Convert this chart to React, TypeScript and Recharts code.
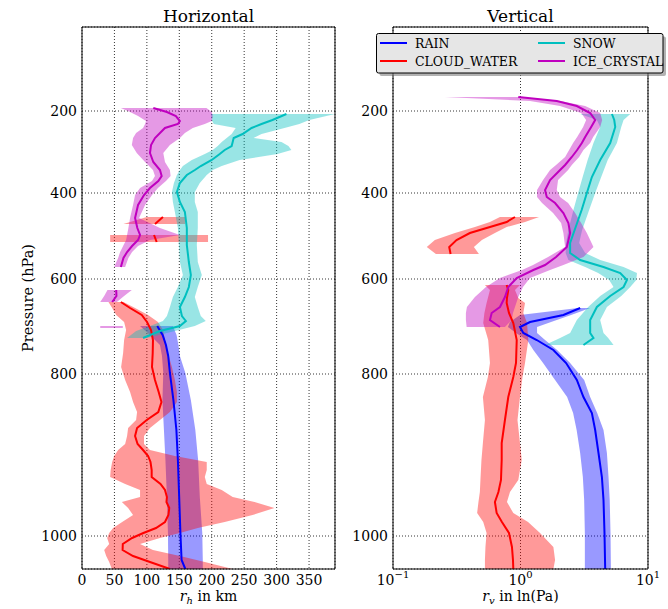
import React from 'react';
import { ComposedChart, Area, Line, XAxis, YAxis, CartesianGrid } from 'recharts';

type Row = [number, number, number, number]; // [level, low, mean, high]

// vertical coordinate: model level (0 = lowest level), labelled with mean pressure
const LEVEL_DOMAIN: [number, number] = [0, 54.2];
const PRESSURE_LABELS = [200, 400, 600, 800, 1000];
const PRESSURE_LEVELS = [45.8, 37.6, 29.0, 19.5, 3.3];
const MINOR_LEVELS = [52.4, 50.1, 48.0, 43.7, 41.7, 39.6, 35.6, 33.4, 31.2, 26.7, 24.5, 22.1, 17.6, 13.3, 9.3];
const COMB_LEVELS = Array.from({ length: 217 }, (_, i) => i * 0.25);

const RH_DOMAIN: [number, number] = [0, 390];
const RH_TICKS = [0, 50, 100, 150, 200, 250, 300, 350];
const RV_DOMAIN: [number, number] = [0.1, 10];
const RV_TICKS = [0.1, 1, 10];
const RV_MINOR = [0.2, 0.3, 0.4, 0.5, 0.6, 0.7, 0.8, 0.9, 2, 3, 4, 5, 6, 7, 8, 9];

// ---------- Horizontal (r_h, km) ----------
const RAIN_H: Row[] = [
  [24.3, 89.5, 116.0, 140.1], [23.4, 104.8, 124.3, 145.8], [22.4, 120.2, 129.4, 148.6],
  [21.3, 123.3, 132.9, 150.9], [19.6, 125.3, 135.5, 159.3], [16.9, 124.0, 140.9, 167.8],
  [13.9, 126.3, 145.5, 174.7], [10.9, 128.6, 147.8, 179.0], [7.2, 130.9, 149.8, 181.6],
  [3.6, 132.5, 151.7, 185.4], [0.9, 132.9, 153.5, 186.2], [0, 132.9, 159.3, 186.2],
];
const CLOUD_H_A: Row[] = [[35.2, 99.8, 124.8, 159.0], [34.5, 63.9, 112.5, 159.0]];
const CLOUD_H_B: Row[] = [[33.4, 43.4, 111.0, 194.3], [32.7, 43.4, 115.1, 194.3]];
const CLOUD_H_C: Row[] = [
  [26.7, 40.8, 59.9, 63.9], [26.1, 46.5, 74.1, 81.8], [25.4, 52.7, 92.1, 101.8],
  [24.7, 64.9, 100.2, 117.1], [23.9, 68.0, 106.4, 124.8], [22.9, 64.9, 109.4, 127.9],
  [21.6, 63.4, 109.0, 132.5], [20.2, 60.3, 107.9, 138.6], [18.9, 66.5, 112.5, 143.2],
  [17.7, 74.1, 118.2, 146.3], [16.7, 78.7, 122.5, 146.3], [15.7, 84.9, 117.6, 135.5],
  [14.9, 83.4, 99.8, 120.2], [14.1, 71.1, 84.9, 104.8], [13.3, 69.5, 81.8, 95.6],
  [12.5, 66.5, 85.7, 95.6], [11.9, 55.7, 94.1, 104.8], [11.3, 49.6, 101.9, 143.2],
  [10.7, 46.5, 105.6, 192.3], [9.9, 44.2, 107.4, 192.3], [9.2, 43.4, 107.4, 189.3],
  [8.5, 66.5, 121.0, 192.3], [7.9, 89.5, 127.9, 215.4], [7.2, 89.5, 130.9, 232.3],
  [6.7, 61.4, 130.2, 266.0], [6.1, 71.1, 134.5, 296.7], [5.4, 78.7, 133.2, 262.9],
  [4.7, 61.9, 127.9, 220.0], [4.1, 48.0, 114.1, 178.5], [3.6, 41.9, 94.6, 150.9],
  [3.1, 38.8, 77.2, 120.2], [2.5, 41.9, 62.9, 89.5], [1.9, 34.2, 62.6, 109.4],
  [1.3, 37.3, 78.7, 150.9], [0.7, 41.9, 104.8, 189.3], [0, 46.0, 135.5, 232.3],
];
const SNOW_H: Row[] = [
  [45.5, 198.5, 315.1, 390.0], [44.9, 200.0, 293.6, 350.4], [44.5, 203.1, 276.7, 335.1],
  [44.1, 236.9, 261.4, 312.1], [43.5, 230.7, 247.6, 276.8], [43.1, 223.0, 233.8, 264.5],
  [42.7, 215.4, 232.3, 307.5], [42.3, 209.2, 230.7, 318.2], [41.9, 201.5, 220.0, 322.8],
  [41.5, 189.3, 212.3, 301.3], [40.9, 169.3, 200.0, 243.0], [40.3, 155.5, 183.1, 215.4],
  [39.9, 150.9, 174.0, 201.5], [39.4, 146.3, 161.6, 192.3], [38.6, 141.7, 150.9, 181.6],
  [37.7, 138.6, 146.3, 173.9], [36.7, 140.1, 150.9, 173.9], [35.7, 143.2, 158.6, 178.5],
  [34.1, 147.8, 161.6, 178.5], [32.4, 149.4, 161.6, 177.0], [30.7, 150.9, 164.7, 178.5],
  [29.4, 155.5, 167.8, 184.7], [28.2, 147.8, 164.7, 178.5], [27.2, 140.1, 158.6, 173.9],
  [26.2, 135.5, 150.9, 178.5], [25.3, 130.9, 154.0, 183.1], [24.8, 124.8, 160.1, 190.8],
  [24.3, 104.8, 150.9, 173.9], [23.8, 83.4, 120.2, 143.2], [23.1, 69.5, 94.1, 100.2],
];
const ICE_H_A: Row[] = [
  [46.1, 59.9, 109.9, 191.9], [45.7, 74.1, 130.9, 200.0], [45.3, 86.4, 144.7, 201.5],
  [44.8, 98.7, 150.9, 200.0], [44.5, 97.2, 147.8, 189.3], [44.1, 94.1, 127.9, 170.8],
  [43.6, 83.4, 120.2, 158.6], [43.1, 78.7, 112.5, 150.9], [42.4, 76.8, 106.4, 135.5],
  [41.6, 84.4, 104.8, 125.3], [40.7, 97.2, 109.9, 127.9], [39.9, 109.4, 120.2, 135.5],
  [39.3, 112.5, 122.8, 136.6], [38.8, 107.9, 117.6, 129.4], [38.1, 89.5, 104.8, 117.1],
  [37.4, 81.8, 95.6, 107.9], [36.4, 78.7, 86.4, 97.2], [35.1, 74.1, 81.8, 88.0],
  [34.1, 71.5, 85.3, 120.2], [33.4, 69.5, 89.5, 150.9], [32.9, 68.0, 86.4, 104.8],
  [32.3, 63.4, 77.2, 86.4], [31.7, 58.8, 69.5, 77.2], [31.1, 55.7, 63.9, 71.5],
  [30.2, 49.6, 59.9, 66.5],
];
const ICE_H_B: Row[] = [[27.9, 39.3, 52.7, 76.8], [27.3, 34.2, 53.1, 64.9], [26.7, 28.1, 46.5, 53.7]];
const ICE_H_SINGLE: [number, number, number] = [24.2, 28.1, 62.9]; // [level, low, high]

// ---------- Vertical (r_v, ln(Pa)) ----------
const RAIN_V: Row[] = [
  [26.1, 2.831, 2.937, 3.519], [25.4, 0.991, 2.170, 2.495], [24.7, 0.827, 1.188, 1.737],
  [24.2, 0.797, 0.991, 1.348], [23.6, 0.922, 1.052, 1.348], [22.9, 1.125, 1.341, 1.558],
  [21.9, 1.261, 1.811, 1.936], [20.6, 1.503, 2.279, 2.450], [18.9, 1.867, 2.766, 3.157],
  [17.2, 2.321, 3.117, 3.519], [15.6, 2.586, 3.629, 3.995], [13.9, 2.756, 3.852, 4.477],
  [11.6, 2.937, 4.090, 4.761], [9.2, 3.083, 4.349, 4.902], [6.9, 3.157, 4.477, 5.009],
  [3.6, 3.197, 4.558, 5.082], [0, 3.197, 4.616, 5.119],
];
const CLOUD_V_A: Row[] = [
  [35.2, 0.690, 0.905, 1.398], [34.7, 0.576, 0.779, 1.085], [34.2, 0.439, 0.576, 0.779],
  [33.6, 0.306, 0.401, 0.630], [32.9, 0.213, 0.315, 0.498], [32.2, 0.184, 0.276, 0.431],
  [31.5, 0.217, 0.283, 0.472],
];
const CLOUD_V_B: Row[] = [
  [28.4, 0.526, 0.779, 0.991], [27.9, 0.576, 0.802, 0.905], [27.1, 0.555, 0.783, 0.961],
  [26.6, 0.542, 0.779, 1.085], [25.6, 0.521, 0.812, 1.052], [24.6, 0.510, 0.878, 1.125],
  [22.9, 0.558, 0.934, 1.152], [20.6, 0.576, 0.922, 1.085], [19.2, 0.555, 0.878, 1.037],
  [17.2, 0.507, 0.802, 0.991], [14.9, 0.526, 0.755, 0.947], [12.6, 0.507, 0.712, 0.991],
  [10.9, 0.494, 0.712, 1.022], [8.9, 0.485, 0.703, 0.961], [7.7, 0.480, 0.671, 0.827],
  [6.7, 0.468, 0.630, 0.783], [5.6, 0.457, 0.650, 0.878], [4.7, 0.510, 0.715, 1.146],
  [3.6, 0.542, 0.812, 1.423], [2.2, 0.531, 0.857, 1.811], [0.9, 0.526, 0.873, 1.867],
  [0, 0.526, 0.878, 1.811],
];
const SNOW_V: Row[] = [
  [45.5, 2.937, 5.212, 7.260], [44.9, 3.973, 5.435, 6.431], [44.2, 4.217, 5.534, 6.168],
  [42.6, 3.735, 5.053, 5.706], [40.9, 3.363, 4.217, 4.831], [39.2, 3.073, 3.629, 4.295],
  [37.6, 2.831, 3.315, 3.852], [35.9, 2.601, 3.017, 3.455], [33.9, 2.375, 2.658, 3.044],
  [32.6, 2.279, 2.450, 2.884], [31.6, 2.259, 2.450, 3.215], [30.9, 2.375, 2.937, 4.217],
  [30.2, 3.215, 4.477, 6.431], [29.6, 4.067, 6.058, 8.195], [28.9, 4.963, 6.837, 8.091],
  [28.2, 5.366, 6.431, 7.260], [27.3, 4.217, 5.053, 6.168], [26.2, 3.394, 3.973, 4.761],
  [24.9, 2.766, 3.519, 4.217], [23.6, 2.450, 3.519, 4.477], [23.1, 2.044, 3.735, 4.875],
  [22.4, 1.558, 3.117, 5.366],
];
const ICE_V: Row[] = [
  [47.2, 0.255, 0.961, 1.0], [46.8, 1.188, 1.925, 2.044], [46.3, 2.044, 2.766, 3.215],
  [45.6, 2.990, 3.519, 4.217], [44.9, 3.273, 3.852, 4.372], [44.2, 3.100, 3.583, 4.217],
  [43.2, 2.781, 3.215, 3.715], [42.6, 2.586, 3.028, 3.519], [41.9, 2.406, 2.781, 3.117],
  [41.2, 2.238, 2.526, 2.884], [40.4, 1.901, 2.238, 2.526], [39.9, 1.706, 2.044, 2.363],
  [38.9, 1.503, 1.706, 1.971], [37.9, 1.348, 1.558, 1.925], [37.2, 1.348, 1.607, 2.044],
  [36.6, 1.476, 1.867, 2.363], [35.6, 1.801, 2.170, 2.682], [34.6, 2.082, 2.375, 2.990],
  [33.6, 2.170, 2.450, 3.315], [32.2, 2.238, 2.308, 3.735], [31.2, 1.645, 1.901, 3.117],
  [30.4, 1.254, 1.558, 2.170], [29.9, 1.028, 1.261, 1.706], [29.1, 0.690, 0.934, 1.188],
  [28.2, 0.536, 0.802, 1.046], [27.2, 0.439, 0.755, 0.961], [26.2, 0.380, 0.690, 0.905],
  [25.6, 0.373, 0.594, 0.873], [24.9, 0.373, 0.576, 0.853], [24.2, 0.378, 0.690, 0.755],
];

const FONT = 'DejaVu Serif';
const C_RAIN = '#0000ff';
const C_CLOUD = '#ff0000';
const C_SNOW = '#00bfbf';
const C_ICE = '#bf00bf';

const LEGEND = [
  { name: 'RAIN', color: C_RAIN, col: 0, row: 0 },
  { name: 'CLOUD_WATER', color: C_CLOUD, col: 0, row: 1 },
  { name: 'SNOW', color: C_SNOW, col: 1, row: 0 },
  { name: 'ICE_CRYSTAL', color: C_ICE, col: 1, row: 1 },
];

type Series = { rows: Row[]; color: string };

const H_SERIES: Series[] = [
  { rows: RAIN_H, color: C_RAIN },
  { rows: CLOUD_H_A, color: C_CLOUD },
  { rows: CLOUD_H_B, color: C_CLOUD },
  { rows: CLOUD_H_C, color: C_CLOUD },
  { rows: SNOW_H, color: C_SNOW },
  { rows: ICE_H_A, color: C_ICE },
  { rows: ICE_H_B, color: C_ICE },
];
const V_SERIES: Series[] = [
  { rows: RAIN_V, color: C_RAIN },
  { rows: CLOUD_V_A, color: C_CLOUD },
  { rows: CLOUD_V_B, color: C_CLOUD },
  { rows: SNOW_V, color: C_SNOW },
  { rows: ICE_V, color: C_ICE },
];

const toRows = (rows: Row[]) => rows.map(([lev, lo, mean, hi]) => ({ lev, mean, band: [lo, hi] }));

const bandEls = (list: Series[], p: string) =>
  list.map((s, i) => (
    <Area
      key={p + 'band' + i}
      data={toRows(s.rows)}
      dataKey="band"
      type="linear"
      stroke="none"
      fill={s.color}
      fillOpacity={0.4}
      dot={false}
      activeDot={false}
      isAnimationActive={false}
    />
  ));
const lineEls = (list: Series[], p: string) =>
  list.map((s, i) => (
    <Line
      key={p + 'line' + i}
      data={toRows(s.rows)}
      dataKey="mean"
      type="linear"
      stroke={s.color}
      strokeWidth={2}
      dot={false}
      activeDot={false}
      isAnimationActive={false}
    />
  ));

const pressureLabel = (v: number) => {
  const i = PRESSURE_LEVELS.indexOf(v);
  return i >= 0 ? String(PRESSURE_LABELS[i]) : '';
};

const LinTick = (props: any) => {
  const { x, y, payload } = props;
  return (
    <text x={x} y={y + 16} textAnchor="middle" fontFamily={FONT} fontSize={14} fill="#000">
      {payload.value}
    </text>
  );
};
const LogTick = (props: any) => {
  const { x, y, payload } = props;
  const e = Math.round(Math.log10(payload.value));
  return (
    <text x={x} y={y + 16} textAnchor="middle" fontFamily={FONT} fontSize={14} fill="#000">
      10
      <tspan dy={-7} fontSize={10}>
        {e < 0 ? '\u2212' + Math.abs(e) : String(e)}
      </tspan>
    </text>
  );
};

const TINY = 0.001;

// inward tick marks and frame (mirrored axes, registered before the main axes)
const frameAxes = (xd: [number, number], xTicks: number[], xMinor: number[] | null, scale: 'linear' | 'log') => {
  const yAx = (id: string, orientation: 'left' | 'right', ticks: number[], size: number, line: boolean, color = '#000', w = 1) => (
    <YAxis
      key={id}
      yAxisId={id}
      type="number"
      orientation={orientation}
      mirror
      reversed
      width={TINY}
      domain={LEVEL_DOMAIN}
      allowDataOverflow
      ticks={ticks}
      interval={0}
      tick={false}
      tickSize={size}
      tickLine={{ stroke: color, strokeWidth: w }}
      axisLine={line ? { stroke: '#000', strokeWidth: 1 } : false}
    />
  );
  const xAx = (id: string, orientation: 'top' | 'bottom', ticks: number[], size: number, line: boolean) => (
    <XAxis
      key={id}
      xAxisId={id}
      type="number"
      scale={scale}
      orientation={orientation}
      mirror
      height={TINY}
      domain={xd}
      allowDataOverflow
      ticks={ticks}
      interval={0}
      tick={false}
      tickSize={size}
      tickLine={{ stroke: '#000', strokeWidth: 1 }}
      axisLine={line ? { stroke: '#000', strokeWidth: 1 } : false}
    />
  );
  const els = [
    yAx('lcomb', 'left', COMB_LEVELS, 2, false, '#666', 0.5),
    yAx('lmin', 'left', MINOR_LEVELS, 3, false),
    yAx('lmaj', 'left', PRESSURE_LEVELS, 5, false),
    yAx('rcomb', 'right', COMB_LEVELS, 2, false, '#666', 0.5),
    yAx('rmin', 'right', MINOR_LEVELS, 3, false),
    yAx('rmaj', 'right', PRESSURE_LEVELS, 5, true),
    xAx('tmaj', 'top', xTicks, 5, true),
    xAx('bmaj', 'bottom', xTicks, 5, false),
  ];
  if (xMinor) {
    els.push(xAx('tmin', 'top', xMinor, 3, false));
    els.push(xAx('bmin', 'bottom', xMinor, 3, false));
  }
  return els;
};

const yTickStyle = { fontFamily: FONT, fontSize: 14, fill: '#000' };

function HorizontalPanel() {
  return (
    <ComposedChart layout="vertical" width={345} height={609} margin={{ top: 27, right: 10, bottom: 0, left: 0 }}>
      {bandEls(H_SERIES, 'h')}
      <Line
        data={[
          { lev: ICE_H_SINGLE[0], mean: ICE_H_SINGLE[1] },
          { lev: ICE_H_SINGLE[0], mean: ICE_H_SINGLE[2] },
        ]}
        dataKey="mean"
        stroke={C_ICE}
        strokeOpacity={0.4}
        strokeWidth={2}
        dot={false}
        activeDot={false}
        isAnimationActive={false}
      />
      {lineEls(H_SERIES, 'h')}
      <CartesianGrid stroke="#000" strokeWidth={0.8} strokeDasharray="1 2" />
      {frameAxes(RH_DOMAIN, RH_TICKS, null, 'linear')}
      <XAxis
        type="number"
        domain={RH_DOMAIN}
        allowDataOverflow
        ticks={RH_TICKS}
        interval={0}
        height={40}
        tickSize={0}
        tickMargin={0}
        tickLine={false}
        axisLine={{ stroke: '#000', strokeWidth: 1 }}
        tick={<LinTick />}
      />
      <YAxis
        type="number"
        dataKey="lev"
        reversed
        domain={LEVEL_DOMAIN}
        allowDataOverflow
        ticks={PRESSURE_LEVELS}
        interval={0}
        width={82}
        tickSize={0}
        tickMargin={5}
        tickLine={false}
        axisLine={{ stroke: '#000', strokeWidth: 1 }}
        tick={yTickStyle}
        tickFormatter={pressureLabel}
      />
    </ComposedChart>
  );
}

function VerticalPanel() {
  return (
    <ComposedChart layout="vertical" width={328} height={609} margin={{ top: 27, right: 20, bottom: 0, left: 0 }}>
      {bandEls(V_SERIES, 'v')}
      {lineEls(V_SERIES, 'v')}
      <CartesianGrid stroke="#000" strokeWidth={0.8} strokeDasharray="1 2" />
      {frameAxes(RV_DOMAIN, RV_TICKS, RV_MINOR, 'log')}
      <XAxis
        type="number"
        scale="log"
        domain={RV_DOMAIN}
        allowDataOverflow
        ticks={RV_TICKS}
        interval={0}
        height={40}
        tickSize={0}
        tickMargin={0}
        tickLine={false}
        axisLine={{ stroke: '#000', strokeWidth: 1 }}
        tick={<LogTick />}
      />
      <YAxis
        type="number"
        dataKey="lev"
        reversed
        domain={LEVEL_DOMAIN}
        allowDataOverflow
        ticks={PRESSURE_LEVELS}
        interval={0}
        width={53}
        tickSize={0}
        tickMargin={5}
        tickLine={false}
        axisLine={{ stroke: '#000', strokeWidth: 1 }}
        tick={yTickStyle}
        tickFormatter={pressureLabel}
      />
    </ComposedChart>
  );
}

function Overlay() {
  const lx = 376.5;
  const ly = 33.5;
  const lw = 286.5;
  const lh = 39.5;
  return (
    <svg width={668} height={609} style={{ position: 'absolute', left: 0, top: 0, pointerEvents: 'none' }}>
      <text x={208.5} y={22} textAnchor="middle" fontFamily={FONT} fontSize={17} fill="#000">Horizontal</text>
      <text x={520.5} y={22} textAnchor="middle" fontFamily={FONT} fontSize={17} fill="#000">Vertical</text>
      <text transform="rotate(-90)" x={-298} y={32.5} textAnchor="middle" fontFamily={FONT} fontSize={14.5} fill="#000">
        Pressure (hPa)
      </text>
      <text x={208.5} y={601} textAnchor="middle" fontFamily={FONT} fontSize={14} fill="#000">
        <tspan fontStyle="italic">r</tspan>
        <tspan fontStyle="italic" fontSize={10} dy={3}>h</tspan>
        <tspan dy={-3}> in km</tspan>
      </text>
      <text x={520.5} y={601} textAnchor="middle" fontFamily={FONT} fontSize={14} fill="#000">
        <tspan fontStyle="italic">r</tspan>
        <tspan fontStyle="italic" fontSize={10} dy={3}>v</tspan>
        <tspan dy={-3}> in ln(Pa)</tspan>
      </text>
      <rect x={lx + 3} y={ly + 3} width={lw} height={lh} rx={2} fill="#7f7f7f" fillOpacity={0.6} />
      <rect x={lx} y={ly} width={lw} height={lh} rx={2} fill="#e6e6e6" stroke="#000" strokeWidth={1} />
      {LEGEND.map((it) => {
        const x0 = it.col === 0 ? 380 : 538;
        const y0 = it.row === 0 ? 43 : 61;
        return (
          <g key={it.name}>
            <line x1={x0} x2={x0 + 27} y1={y0} y2={y0} stroke={it.color} strokeWidth={2} />
            <text x={x0 + 35} y={y0 + 4.5} fontFamily={FONT} fontSize={12.5} fill="#000">{it.name}</text>
          </g>
        );
      })}
    </svg>
  );
}

export default function App() {
  return (
    <div style={{ position: 'absolute', left: 0, top: 0, width: 668, height: 609, background: '#fff', overflow: 'hidden' }}>
      <div style={{ position: 'absolute', left: 0, top: 0 }}>
        <HorizontalPanel />
      </div>
      <div style={{ position: 'absolute', left: 340, top: 0 }}>
        <VerticalPanel />
      </div>
      <Overlay />
    </div>
  );
}
